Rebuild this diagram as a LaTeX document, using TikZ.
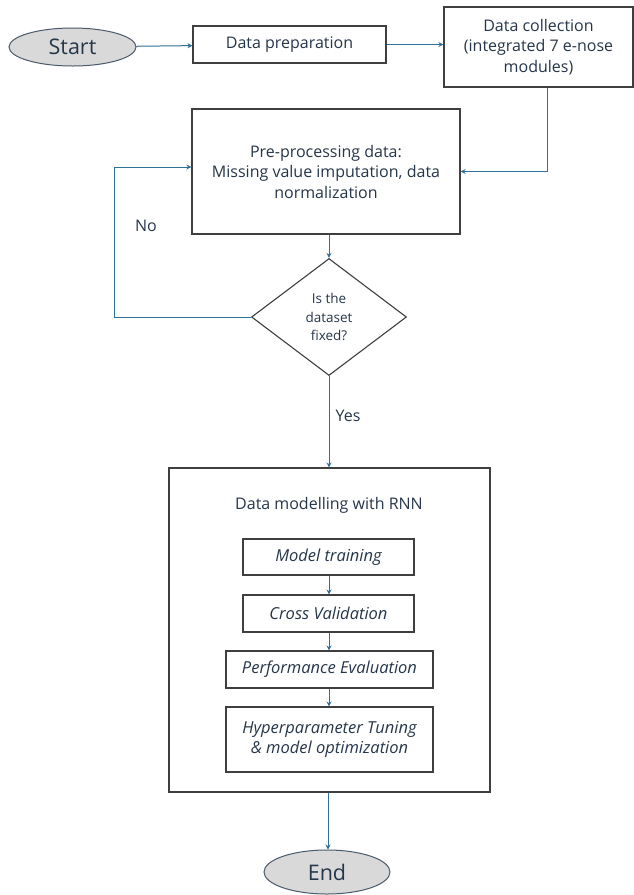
\documentclass[tikz,border=0pt]{standalone}
\usepackage{fontspec}
\setmainfont{Open Sans}
\usetikzlibrary{arrows.meta,shapes.geometric}
\definecolor{txt}{HTML}{26364A}
\definecolor{arr}{HTML}{2F7196}
\definecolor{bdr}{HTML}{3F3F3F}
\definecolor{ellfill}{HTML}{D9D9D9}
\definecolor{ellbdr}{HTML}{4A5A6A}
\tikzset{
  box/.style={draw=bdr, line width=1.1pt, rectangle, inner sep=0pt, align=center, text=txt,
    font=\fontsize{16}{20.5}\selectfont},
  inbox/.style={box, font=\fontsize{16.5}{20.5}\selectfont\itshape},
  term/.style={ellipse, draw=ellbdr, fill=ellfill, line width=1pt, inner sep=0pt, text=txt,
    font=\fontsize{21.5}{24}\selectfont},
  decision/.style={diamond, draw=bdr, line width=1.1pt, inner sep=0pt, align=center, text=txt,
    font=\fontsize{13.5}{18.5}\selectfont},
  lbl/.style={text=txt, inner sep=0pt, font=\fontsize{16}{19}\selectfont},
  conn/.style={draw=arr, line width=1pt, -{Stealth[length=5pt,width=5pt]}},
  plainconn/.style={draw=arr, line width=1pt},
}
\begin{document}
\begin{tikzpicture}[x=1pt,y=-1pt]
\useasboundingbox (0,0) rectangle (634,895);
\fill[white] (0,0) rectangle (634,895);

\node[term, minimum width=127pt, minimum height=38pt] (start) at (72.5,47) {Start};
\node[box, minimum width=193pt, minimum height=37pt] (prep) at (289.5,44.5) {Data preparation};
\node[box, minimum width=189pt, minimum height=80pt] (coll) at (538.5,47)
  {Data collection\\(integrated 7 e-nose\\modules)};
\node[box, minimum width=268pt, minimum height=125pt] (pre) at (326,171.5)
  {Pre-processing data:\\Missing value imputation, data\\normalization};
\node[decision, minimum width=155pt, minimum height=117pt] (dia) at (329,317)
  {Is the\\dataset\\fixed?};
\node[box, minimum width=321pt, minimum height=324pt] (rnn) at (329.5,630) {};
\node[lbl] (rnntitle) at (329,505) {Data modelling with RNN};
\node[inbox, minimum width=171pt, minimum height=36pt] (mt) at (328.5,557) {Model training};
\node[inbox, minimum width=171pt, minimum height=37pt] (cv) at (328.5,613.5) {Cross Validation};
\node[inbox, minimum width=207pt, minimum height=37pt] (pe) at (329.5,669.5) {Performance Evaluation};
\node[inbox, minimum width=207pt, minimum height=65pt] (hp) at (329.5,739.5)
  {Hyperparameter Tuning\\\& model optimization};
\node[term, minimum width=126pt, minimum height=44pt] (end) at (327,872) {End};

\node[lbl] (no) at (146,226) {No};
\node[lbl] (yes) at (348,416) {Yes};

\coordinate (nocorner) at (114,317);

\draw[conn] (start) -- (prep);
\draw[conn] (prep.east) -- (prep.east -| coll.west);
\draw[conn] ([xshift=8.5pt]coll.south) |- (pre.east);
\draw[conn] (dia.north |- pre.south) -- (dia.north);
\draw[plainconn] (dia.west) -- (nocorner);
\draw[conn] (nocorner) |- ([yshift=4.5pt]pre.west);
\draw[conn] (dia.south) -- (rnn.north -| dia.south);
\draw[conn] (mt.south -| 329,0) -- (cv.north -| 329,0);
\draw[conn] (cv.south -| 329,0) -- (pe.north -| 329,0);
\draw[conn] (pe.south -| 329,0) -- (hp.north -| 329,0);
\draw[conn] (rnn.south -| 328,0) -- (end.north -| 328,0);
\end{tikzpicture}
\end{document}
